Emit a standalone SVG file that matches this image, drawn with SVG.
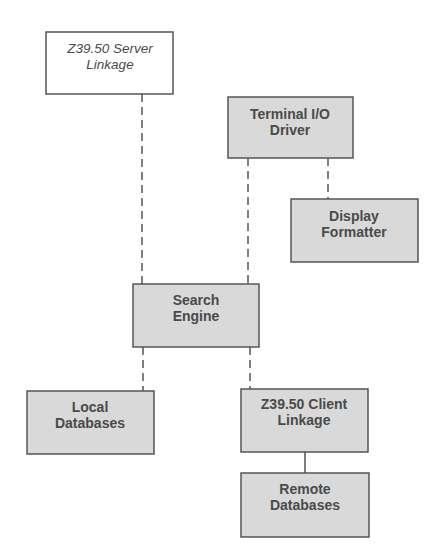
<svg xmlns="http://www.w3.org/2000/svg" width="430" height="547" viewBox="0 0 430 547">
<style>
.box{fill:#d9d9d9;stroke:#555;stroke-width:1.5}
.wbox{fill:#fff;stroke:#555;stroke-width:1.5}
.t{font-family:"Liberation Sans",Arial,sans-serif;font-size:14px;font-weight:bold;fill:#4a4a4a;text-anchor:middle}
.ti{font-family:"Liberation Sans",Arial,sans-serif;font-size:13.5px;font-style:italic;fill:#4a4a4a;text-anchor:middle}
.c{stroke:#555;stroke-width:1.5;fill:none;stroke-dasharray:8 5}
.s{stroke:#555;stroke-width:1.5;fill:none}
</style>
<rect width="430" height="547" fill="#fff"/>
<g id="connectors">
<line class="c" x1="142" y1="94" x2="142" y2="284"/>
<line class="c" x1="248" y1="158" x2="248" y2="284"/>
<line class="c" x1="328" y1="158" x2="328" y2="199"/>
<line class="c" x1="143" y1="347" x2="143" y2="391"/>
<line class="c" x1="250" y1="347" x2="250" y2="389"/>
<line class="s" x1="305" y1="452" x2="305" y2="473"/>
</g>
<g id="server">
<rect class="wbox" x="46" y="32" width="127" height="62"/>
<text class="ti" x="110" y="53">Z39.50 Server</text>
<text class="ti" x="110" y="69">Linkage</text>
</g>
<g id="terminal">
<rect class="box" x="228" y="97" width="125" height="61"/>
<text class="t" x="290" y="119">Terminal I/O</text>
<text class="t" x="290" y="135">Driver</text>
</g>
<g id="display">
<rect class="box" x="291" y="199" width="127" height="63"/>
<text class="t" x="354" y="221">Display</text>
<text class="t" x="354" y="237">Formatter</text>
</g>
<g id="search">
<rect class="box" x="133" y="284" width="126" height="63"/>
<text class="t" x="196" y="305">Search</text>
<text class="t" x="196" y="321">Engine</text>
</g>
<g id="local">
<rect class="box" x="27" y="391" width="127" height="63"/>
<text class="t" x="90" y="412">Local</text>
<text class="t" x="90" y="428">Databases</text>
</g>
<g id="client">
<rect class="box" x="241" y="389" width="127" height="63"/>
<text class="t" x="304" y="409">Z39.50 Client</text>
<text class="t" x="304" y="425">Linkage</text>
</g>
<g id="remote">
<rect class="box" x="241" y="473" width="128" height="64"/>
<text class="t" x="305" y="494">Remote</text>
<text class="t" x="305" y="510">Databases</text>
</g>
</svg>
